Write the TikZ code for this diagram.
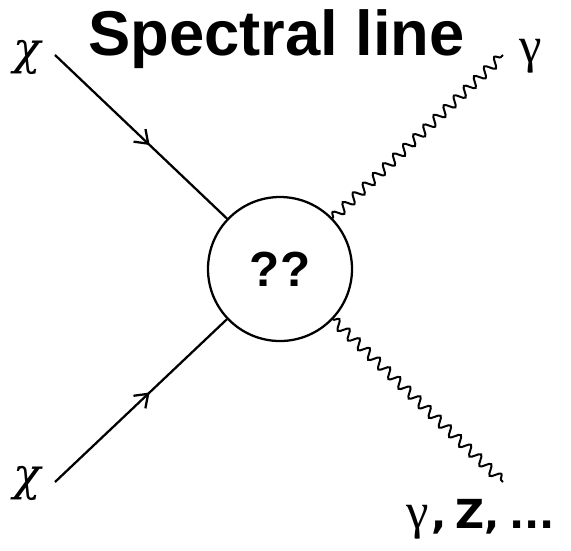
\documentclass[tikz,border=0pt]{standalone}
\usepackage{fontspec}
\setmainfont{Liberation Sans}
\newfontfamily\grk{Liberation Serif}
\newfontfamily\chifont{DejaVu Serif}
\newfontfamily\wide{DejaVu Sans}
\usetikzlibrary{arrows.meta,decorations.pathmorphing,decorations.markings}

\tikzset{
  fermion/.style={line width=1.7pt, postaction={decorate},
    decoration={markings, mark=at position 0.55 with
      {\arrow{Straight Barb[length=9pt, width=13pt]}}}},
  photon/.style={line width=1.5pt, decorate,
    decoration={snake, amplitude=3.6pt, segment length=10.5pt}},
  blob/.style={circle, draw, line width=1.7pt, minimum size=108pt,
    inner sep=0pt, font=\bfseries\fontsize{37}{40}\selectfont},
  label/.style={inner sep=0pt, anchor=base}
}

\begin{document}
\begin{tikzpicture}[x=0.75pt, y=-0.75pt]
\useasboundingbox (0,0) rectangle (571,550);
\node[label, font=\bfseries\fontsize{47.5}{50}\selectfont] (title) at (276.5,55)
  {Spectral line};
\node[blob] (blob) at (280,269) {??};
\coordinate (chiin) at (55,55);
\coordinate (chiout) at (55,482);
\coordinate (gamup) at (503,55);
\coordinate (gamdown) at (503,482);
\node[label, font=\chifont\itshape\fontsize{34}{40}\selectfont] (chiinlab) at (27,64) {χ};
\node[label, font=\chifont\itshape\fontsize{34}{40}\selectfont] (chioutlab) at (27,490) {χ};
\node[label, font=\grk\fontsize{38}{40}\selectfont] (gamuplab) at (531,62) {γ};
\node[label, anchor=base west] (gamdownlab) at (406,528)
  {\grk\fontsize{38}{40}\selectfont γ\kern2pt\wide\bfseries\fontsize{30}{32}\selectfont,%
   \hspace{7pt}Z,\hspace{7pt}...};
\draw[fermion] (chiin) -- (blob);
\draw[fermion] (chiout) -- (blob);
\draw[photon] (blob) -- (gamup);
\draw[photon] (blob) -- (gamdown);
\end{tikzpicture}
\end{document}
